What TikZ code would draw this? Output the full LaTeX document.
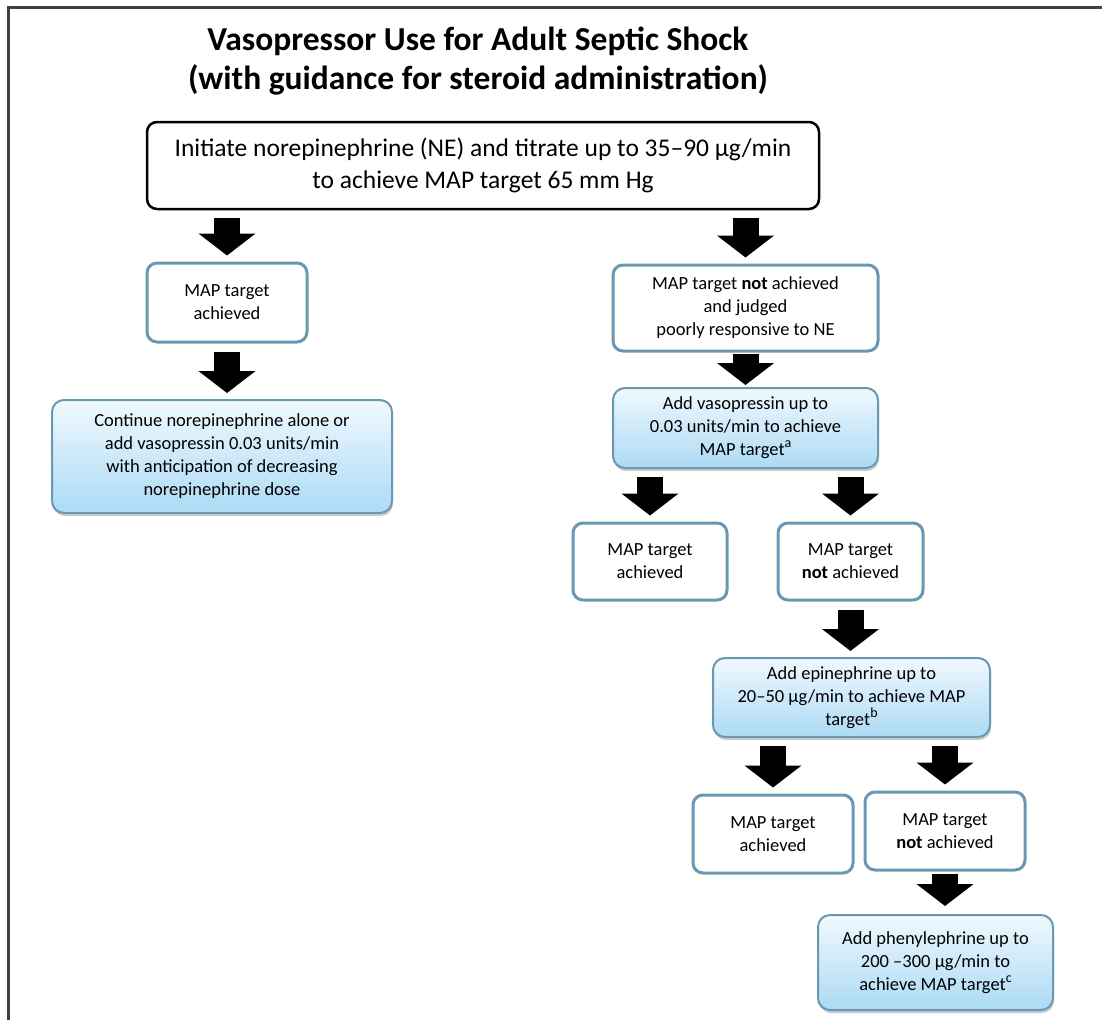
\documentclass[tikz,border=0pt]{standalone}
\usepackage{fontspec}
\setmainfont{Carlito}
\usetikzlibrary{arrows.meta,shadows}
\definecolor{boxblue}{RGB}{106,152,176}
\definecolor{gradtop}{RGB}{240,249,254}
\definecolor{gradbot}{RGB}{172,218,245}
\newcommand\supmark[1]{\raisebox{0.45em}{\fontsize{14}{14}\selectfont #1}}

\begin{document}
\begin{tikzpicture}[x=1pt,y=-1pt,
  boxtext/.style={align=center,inner sep=0pt,font=\fontsize{18.5}{23}\selectfont},
  plainbox/.style={boxtext,draw=boxblue,line width=3pt,rounded corners=10pt,fill=white},
  gradbox/.style={boxtext,draw=boxblue,line width=2pt,rounded corners=12pt,
    top color=gradtop,bottom color=gradbot,
    drop shadow={shadow xshift=1pt,shadow yshift=-3pt,fill=black!40}},
  fatarrow/.style={line width=26pt,-{Triangle[length=22pt,width=56pt]},
    shorten <=8pt,shorten >=6pt}]

\useasboundingbox (0,0) rectangle (1102,1020);

% Frame
\draw[line width=3pt,black!75] (8,1020) -- (8,7) -- (1102,7);

% Title
\node[align=center,font=\fontsize{33.5}{39}\selectfont\bfseries] (title) at (478,61)
  {Vasopressor Use for Adult Septic Shock\\(with guidance for steroid administration)};

% Start
\node[draw=black,line width=2.5pt,rounded corners=10pt,fill=white,align=center,
  inner sep=0pt,minimum width=672pt,minimum height=87pt,
  font=\fontsize{25.5}{32}\selectfont] (init) at (483,165.5)
  {Initiate norepinephrine (NE) and titrate up to 35–90 µg/min\\to achieve MAP target 65 mm Hg};

% Left branch
\node[plainbox,minimum width=160pt,minimum height=79pt] (ach1) at (227,302.5)
  {MAP target\\achieved};
\node[gradbox,minimum width=340pt,minimum height=113pt] (cont) at (222,456.5)
  {Continue norepinephrine alone or\\add vasopressin 0.03 units/min\\with anticipation of decreasing\\norepinephrine dose};

% Right branch
\node[plainbox,minimum width=265pt,minimum height=86pt] (judged) at (745.5,308)
  {MAP target \textbf{not} achieved\\and judged\\poorly responsive to NE};
\node[gradbox,minimum width=265pt,minimum height=80pt] (vaso) at (745.5,428)
  {Add vasopressin up to\\0.03 units/min to achieve\\MAP target\supmark{a}};
\node[plainbox,minimum width=154pt,minimum height=77pt] (ach2) at (650,561.5)
  {MAP target\\achieved};
\node[plainbox,minimum width=145pt,minimum height=77pt] (not1) at (850.5,561.5)
  {MAP target\\\textbf{not} achieved};
\node[gradbox,minimum width=277pt,minimum height=79pt] (epi) at (851.5,697.5)
  {Add epinephrine up to\\20–50 µg/min to achieve MAP\\target\supmark{b}};
\node[plainbox,minimum width=160pt,minimum height=78pt] (ach3) at (773,834)
  {MAP target\\achieved};
\node[plainbox,minimum width=160pt,minimum height=78pt] (not2) at (945,831)
  {MAP target\\\textbf{not} achieved};
\node[gradbox,minimum width=235pt,minimum height=95pt] (phen) at (935.5,962.5)
  {Add phenylephrine up to\\200 –300 µg/min to\\achieve MAP target\supmark{c}};

% Arrows
\draw[fatarrow] (init.south -| ach1.north) -- (ach1.north);
\draw[fatarrow] (ach1.south) -- (ach1.south |- cont.north);
\draw[fatarrow] (init.south -| judged.north) -- (judged.north);
\draw[fatarrow,shorten <=1pt,shorten >=2pt] (judged.south) -- (vaso.north);
\draw[fatarrow] (vaso.south -| ach2.north) -- (ach2.north);
\draw[fatarrow] (vaso.south -| not1.north) -- (not1.north);
\draw[fatarrow] (not1.south) -- (not1.south |- epi.north);
\draw[fatarrow] (epi.south -| ach3.north) -- (ach3.north);
\draw[fatarrow] (epi.south -| not2.north) -- (not2.north);
\draw[fatarrow,shorten <=2pt,shorten >=8pt] (not2.south) -- (not2.south |- phen.north);

\end{tikzpicture}
\end{document}
